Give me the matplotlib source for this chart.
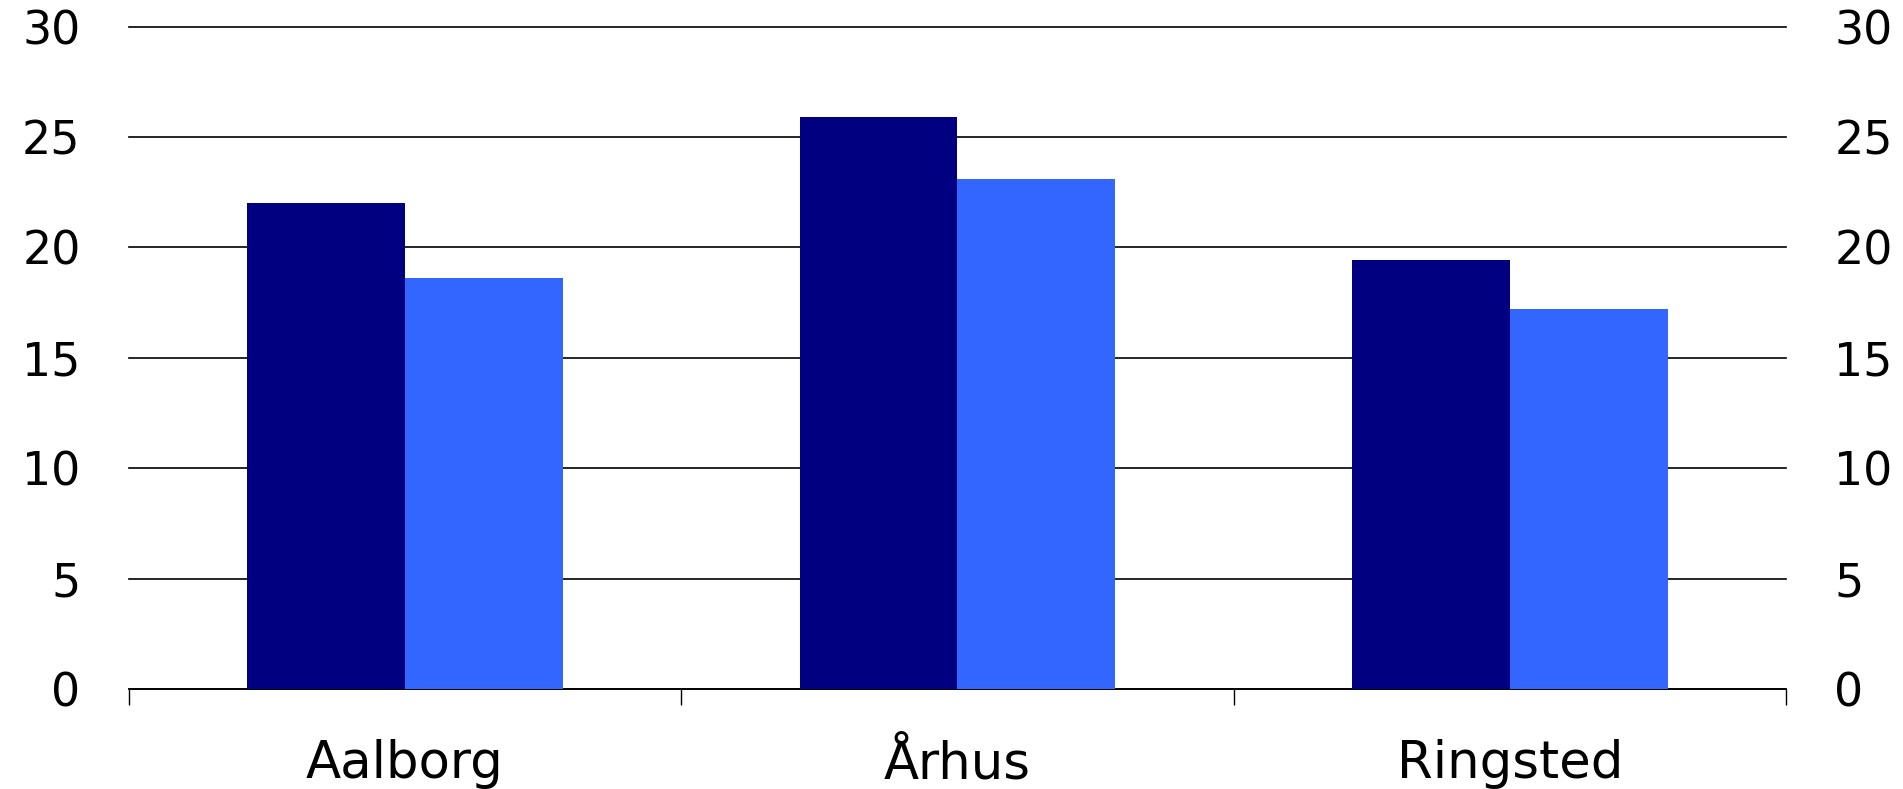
import matplotlib.pyplot as plt
import numpy as np

# Data
cities = ['Aalborg', 'Århus', 'Ringsted']
series_dark = [22.0, 25.9, 19.45]
series_light = [18.6, 23.1, 17.2]
yticks = [0, 5, 10, 15, 20, 25, 30]

dark_col = '#000080'
light_col = '#3366FF'

fig = plt.figure(figsize=(19.03, 7.89), dpi=100)
ax = fig.add_axes([0.0676, 0.1267, 0.871, 0.8395])

x = np.arange(len(cities))
w = 1 / 3.5
ax.bar(x - w / 2, series_dark, width=w, color=dark_col, zorder=3)
ax.bar(x + w / 2, series_light, width=w, color=light_col, zorder=3)

ax.set_xlim(-0.5, len(cities) - 0.5)
ax.set_ylim(0, 30)

# horizontal gridlines
ax.set_yticks(yticks)
ax.yaxis.grid(True, color='black', linewidth=1.2, zorder=1)
ax.set_axisbelow(True)
for gl in ax.get_ygridlines():
    gl.set_clip_on(False)

for s in ['left', 'right', 'top']:
    ax.spines[s].set_visible(False)
ax.spines['bottom'].set_color('black')
ax.spines['bottom'].set_linewidth(1.2)

# y labels on both sides
ax.tick_params(axis='y', which='both', length=0, labelsize=33,
               left=True, right=True, labelleft=True, labelright=True)
for t in ax.yaxis.get_major_ticks():
    t.set_pad(34.6)
    t.label1.set_horizontalalignment('right')
    t.label2.set_horizontalalignment('left')

# x ticks at category boundaries, labels in between
ax.set_xticks(np.arange(-0.5, len(cities), 1.0))
ax.set_xticklabels([])
ax.tick_params(axis='x', which='major', length=11.5, width=1.0,
               direction='out', color='black')
ax.set_xticks(x, minor=True)
ax.set_xticklabels(cities, minor=True)
ax.tick_params(axis='x', which='minor', length=0, labelsize=37, pad=36)

fig.savefig('out.png', dpi=100)
